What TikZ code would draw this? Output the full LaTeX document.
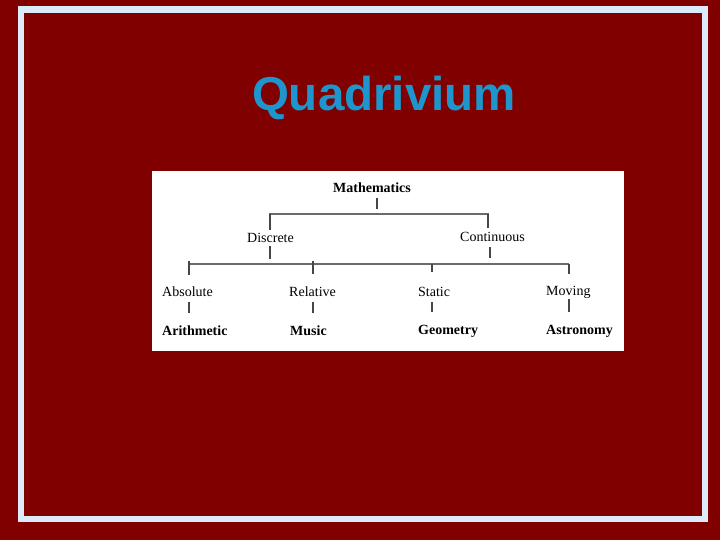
\documentclass[tikz,border=0pt]{standalone}
\usepackage{fontspec}
\setmainfont{Liberation Serif}
\newfontfamily\titlefont{Liberation Sans}
\definecolor{bgred}{RGB}{128,0,0}
\definecolor{framecol}{RGB}{220,235,250}
\definecolor{titlecol}{RGB}{30,150,205}
\definecolor{linecol}{RGB}{70,70,70}
\tikzset{
  lbl/.style={inner sep=0pt, font=\fontsize{14}{16}\selectfont, text=black},
  lblb/.style={inner sep=0pt, font=\fontsize{14}{16}\selectfont\bfseries, text=black},
  conn/.style={draw=linecol, line width=1.1pt},
  hconn/.style={draw=linecol!80, line width=1.6pt},
}
\begin{document}
\begin{tikzpicture}[x=1pt,y=-1pt]
\useasboundingbox (0,0) rectangle (720,540);
\fill[bgred] (0,0) rectangle (720,540);
\draw[framecol, line width=6.5pt] (21,9.5) rectangle (705,519);
\node[inner sep=0pt, text=titlecol, font=\titlefont\fontsize{47.5}{50}\selectfont\bfseries] (title) at (384,98) {Quadrivium};
\fill[white] (152,171) rectangle (624,351);
% level 1
\node[lblb] (math) at (372,188) {Mathematics};
\coordinate (m1) at (377,198); \coordinate (m2) at (377,209);
\draw[conn] (m1) -- (m2);
\coordinate (hl) at (269,214); \coordinate (hr) at (489,214);
\draw[hconn] (hl) -- (hr);
% level 2
\node[lbl] (disc) at (270.5,238) {Discrete};
\node[lbl] (cont) at (492.5,237) {Continuous};
\coordinate (d1) at (270,214); \coordinate (d2) at (270,230);
\coordinate (c1) at (488,214); \coordinate (c2) at (488,228);
\draw[conn] (d1) -- (d2);
\draw[conn, line width=1.6pt] (c1) -- (c2);
\coordinate (d3) at (270,246); \coordinate (d4) at (270,259);
\coordinate (c3) at (490,247); \coordinate (c4) at (490,258);
\draw[conn] (d3) -- (d4);
\draw[conn] (c3) -- (c4);
\coordinate (ll) at (189,264); \coordinate (lr) at (569,264);
\draw[hconn] (ll) -- (lr);
% ticks
\coordinate (t1a) at (189,261); \coordinate (t1b) at (189,275);
\coordinate (t2a) at (313,261); \coordinate (t2b) at (313,274);
\coordinate (t3a) at (432,264); \coordinate (t3b) at (432,272);
\coordinate (t4a) at (569,264); \coordinate (t4b) at (569,274);
\draw[conn] (t1a) -- (t1b);
\draw[conn] (t2a) -- (t2b);
\draw[conn] (t3a) -- (t3b);
\draw[conn] (t4a) -- (t4b);
% level 3
\node[lbl, anchor=west] (abs) at (162,292) {Absolute};
\node[lbl, anchor=west] (rel) at (289,292) {Relative};
\node[lbl, anchor=west] (stat) at (418,292) {Static};
\node[lbl, anchor=west] (mov) at (546,292) {Moving};
\coordinate (v1a) at (189,302); \coordinate (v1b) at (189,313);
\coordinate (v2a) at (313,302); \coordinate (v2b) at (313,313);
\coordinate (v3a) at (432,302); \coordinate (v3b) at (432,312);
\coordinate (v4a) at (569,299); \coordinate (v4b) at (569,312);
\draw[conn] (v1a) -- (v1b);
\draw[conn] (v2a) -- (v2b);
\draw[conn] (v3a) -- (v3b);
\draw[conn, line width=1.7pt] (v4a) -- (v4b);
% level 4
\node[lblb, anchor=west] (arith) at (162,331) {Arithmetic};
\node[lblb, anchor=west] (music) at (290,331) {Music};
\node[lblb, anchor=west] (geom) at (418,331) {Geometry};
\node[lblb, anchor=west] (astro) at (546,331) {Astronomy};
\end{tikzpicture}
\end{document}
